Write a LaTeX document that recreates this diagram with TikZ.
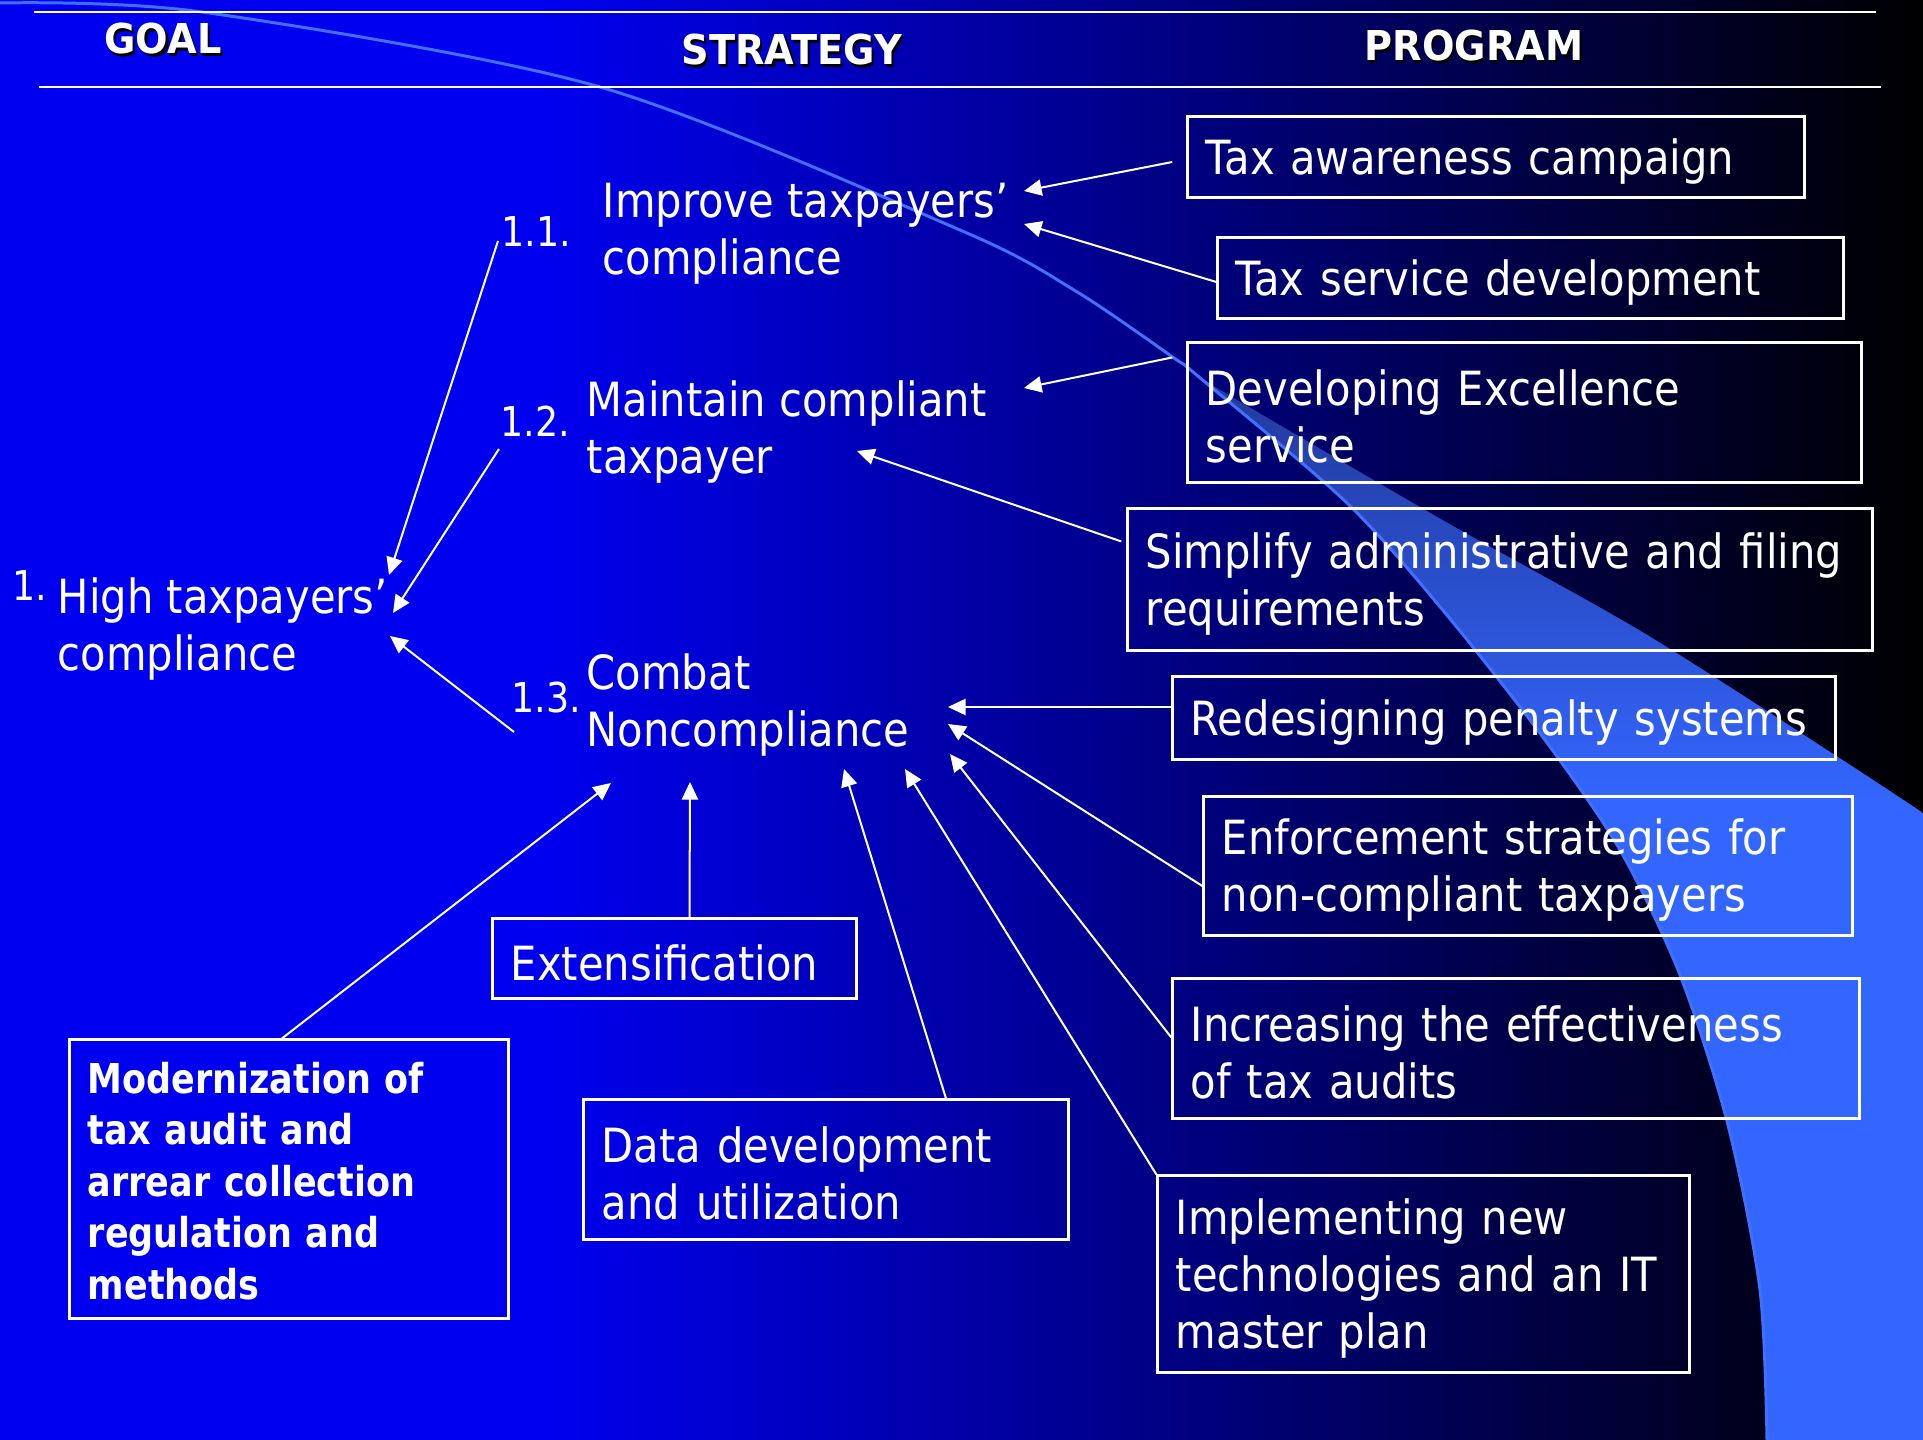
\documentclass[tikz,border=0pt]{standalone}
\usepackage{fontspec}
\setmainfont{DejaVu Sans}[FakeStretch=0.885]
\newfontfamily\headfont{DejaVu Sans}[FakeStretch=0.93]
\newfontfamily\boldbox{DejaVu Sans}[FakeStretch=0.85]
\usepackage{tikz}
\usetikzlibrary{arrows.meta}

\definecolor{slideblue}{RGB}{0,0,240}
\definecolor{swooshlight}{RGB}{51,102,255}
\definecolor{swooshdark}{RGB}{34,57,156}
\definecolor{swooshline}{RGB}{64,112,255}

\pgfdeclarehorizontalshading{slidebg}{100bp}{color(0bp)=(slideblue); color(39bp)=(slideblue); color(75bp)=(black); color(100bp)=(black)}
\pgfdeclareverticalshading{swooshfade}{100bp}{color(0bp)=(swooshlight); color(55bp)=(swooshlight); color(75bp)=(swooshdark); color(100bp)=(swooshdark)}

\newcommand\shadowtext[1]{\rlap{\kern0.6pt\raisebox{-0.6pt}{\color{black}#1}}#1}

\tikzset{
  head/.style={text=white, inner sep=0pt, font=\headfont\bfseries\fontsize{11.7}{14}\selectfont},
  strat/.style={text=white, align=left, inner sep=0pt, anchor=west, font=\fontsize{13.4}{16.2}\selectfont},
  num/.style={text=white, inner sep=0pt, anchor=base west, font=\fontsize{11.7}{14}\selectfont},
  prog/.style={draw=white, line width=0.85pt, text=white, align=left, inner xsep=0.18cm, inner ysep=0pt, text height=12.5pt, font=\fontsize{13.4}{16.2}\selectfont},
  box/.style 2 args={prog, text width=#1, minimum height=#2},
  rule/.style={white, line width=0.7pt},
  arr/.style={white, line width=0.57pt, -{Triangle[length=5pt,width=4.6pt]}}
}

\begin{document}
\begin{tikzpicture}[x=0.01cm, y=-0.01cm]
\useasboundingbox (0,0) rectangle (1923,1440);
\shade[shading=slidebg] (0,0) rectangle (1923,1440);

% swoosh
\shade[shading=swooshfade] plot[smooth] coordinates {(1199,377) (1249,407) (1446,522) (1644,633) (1841,759) (1923,813)}
  -- (1923,1440) -- (1767,1440)
  -- plot[smooth] coordinates {(1767,1440) (1760,1290) (1728,1125) (1680,975) (1620,850) (1545,740) (1446,614) (1347,503) (1199,377)} -- cycle;
\draw[swooshline, line width=0.85pt] plot[smooth] coordinates {(0,3) (202,12) (600,87) (960,230) (1074,290) (1174,358) (1199,377) (1347,503) (1446,614) (1545,740) (1620,850) (1680,975) (1728,1125) (1760,1290) (1767,1440)};

% header
\draw[rule] (34,12) -- (1876,12);
\draw[rule] (39,87) -- (1881,87);
\node[head] (goal) at (163,40) {\shadowtext{GOAL}};
\node[head] (strategy) at (792,51) {\shadowtext{STRATEGY}};
\node[head] (program) at (1474,47) {\shadowtext{PROGRAM}};

% goal and strategies
\node[num] (num1) at (12,601) {1.};
\node[strat] (high) at (57,629) {High taxpayers’\\compliance};
\node[num] (num11) at (501,247) {1.1.};
\node[strat] (improve) at (602,234) {Improve taxpayers’\\compliance};
\node[num] (num12) at (500,437) {1.2.};
\node[strat] (maintain) at (586,432) {Maintain compliant\\taxpayer};
\node[num] (num13) at (511,713) {1.3.};
\node[strat] (combat) at (586,705) {Combat\\Noncompliance};

% programs
\node[box={5.80cm}{0.80cm}] (aware) at (1496,157) {Tax awareness campaign};
\node[box={5.89cm}{0.80cm}] (service) at (1530.5,278) {Tax service development};
\node[box={6.37cm}{1.39cm}] (excel) at (1524.5,412.5) {Developing Excellence\\service};
\node[box={7.08cm}{1.41cm}] (simplify) at (1500,579.5) {Simplify administrative and filing\\requirements};
\node[box={6.26cm}{0.82cm}] (penalty) at (1504,718) {Redesigning penalty systems};
\node[box={6.12cm}{1.38cm}] (enforce) at (1528,866) {Enforcement strategies for\\non-compliant taxpayers};
\node[box={6.50cm}{1.39cm}] (audits) at (1516,1048.5) {Increasing the effectiveness\\of tax audits};
\node[box={4.95cm}{1.96cm}] (itplan) at (1423.5,1274) {Implementing new\\technologies and an IT\\master plan};
\node[box={3.27cm}{0.79cm}] (extens) at (674.5,958.5) {Extensification};
\node[box={4.48cm}{1.39cm}] (datadev) at (826,1169.5) {Data development\\and utilization};
\node[box={4.02cm}{2.78cm}, text height=10pt, font=\boldbox\bfseries\fontsize{11.7}{14.65}\selectfont] (modern) at (289,1179)
  {Modernization of\\tax audit and\\arrear collection\\regulation and\\methods};

% arrow tips
\coordinate (goalA) at (389,575);
\coordinate (goalB) at (393,613);
\coordinate (goalC) at (390,636);
\coordinate (impA) at (1024,191);
\coordinate (impB) at (1024,224);
\coordinate (mainA) at (1024,388);
\coordinate (mainB) at (857,451);
\coordinate (comA) at (948,707);
\coordinate (comB) at (948,724);
\coordinate (comC) at (950,754);
\coordinate (comD) at (905,769);
\coordinate (comE) at (844,769);
\coordinate (comF) at (690,782);
\coordinate (comG) at (611,783);

\draw[arr] ([shift={(-3,-6)}]num11.base west) -- (goalA);
\draw[arr] ([shift={(-1,12)}]num12.base west) -- (goalB);
\draw[arr] ([shift={(3,19)}]num13.base west) -- (goalC);

\draw[arr] ([shift={(-14,5)}]aware.west) -- (impA);
\draw[arr] ([shift={(0,4)}]service.west) -- (impB);
\draw[arr] ([shift={(-14,16)}]excel.north west) -- (mainA);
\draw[arr] ([shift={(-5,34)}]simplify.north west) -- (mainB);

\draw[arr] ([shift={(0,-11)}]penalty.west) -- (comA);
\draw[arr] ([shift={(0,20)}]enforce.west) -- (comB);
\draw[arr] ([shift={(0,-11)}]audits.west) -- (comC);
\draw[arr] (itplan.north west) -- (comD);
\draw[arr] ([shift={(120,0)}]datadev.north) -- (comE);
\draw[arr] ([shift={(15,0)}]extens.north) -- (comF);
\draw[arr] ([shift={(-7,0)}]modern.north) -- (comG);

\end{tikzpicture}
\end{document}
